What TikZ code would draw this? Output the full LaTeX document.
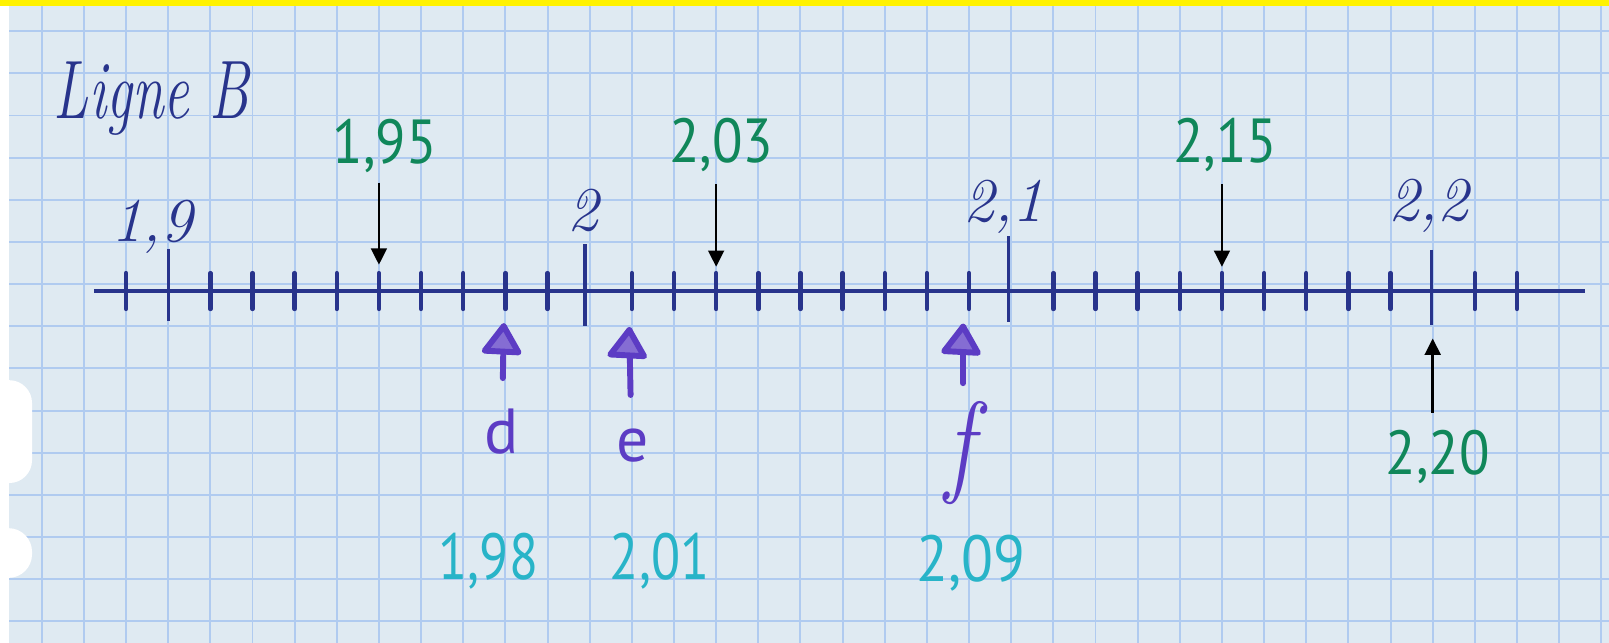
\documentclass[tikz,border=0pt]{standalone}
\usepackage{fontspec}
\newfontfamily\markerfont{PT Sans}
\usetikzlibrary{arrows.meta}
\definecolor{paper}{RGB}{223,234,242}
\definecolor{gridblue}{RGB}{176,203,240}
\definecolor{inkblue}{RGB}{40,52,140}
\definecolor{inkgreen}{RGB}{16,135,90}
\definecolor{inkpurple}{RGB}{92,60,196}
\definecolor{inkcyan}{RGB}{40,180,200}
\begin{document}
\begin{tikzpicture}[x=0.5cm,y=0.5cm,
  gridline/.style={gridblue, line width=0.65pt},
  axisline/.style={inkblue, line width=1.3pt},
  minortick/.style={inkblue, line width=1.5pt, line cap=round},
  majortick/.style={inkblue, line width=1.1pt},
  penlabel/.style={inkblue, font=\fontsize{21}{24}\selectfont\itshape, anchor=base, inner sep=0pt},
  greenlabel/.style={inkgreen, font=\markerfont\fontsize{21}{24}\selectfont, xscale=0.9, anchor=base, inner sep=0pt},
  cyanlabel/.style={inkcyan, font=\markerfont\fontsize{22}{26}\selectfont, anchor=base, inner sep=0pt},
  letterlabel/.style={inkpurple, font=\markerfont\fontsize{21.5}{26}\selectfont, anchor=base, inner sep=0pt},
  blackarrow/.style={black, line width=0.9pt, -{Triangle[width=5.3pt,length=5.5pt]}},
  purplearrow/.style={inkpurple, line width=2pt, line cap=round, line join=round},
  purplehead/.style={inkpurple, fill=inkpurple!75, line width=2pt, line join=round},
]
\useasboundingbox (0,0) rectangle (38.173,-15.255);
% paper
\fill[paper] (0,0) rectangle (38.173,-15.255);
\foreach \k in {0,...,37} \draw[gridline] ({\k+0.99},0) -- ({\k+0.99},-15.255);
\foreach \k in {0,...,14} \draw[gridline] (0,{-0.74-\k}) -- (38.173,{-0.74-\k});
\fill[white] (0,0) rectangle (0.22,-15.255);
% punched holes
\fill[white, rounded corners=0.27cm] (-1,-9.02) rectangle (0.76,-11.46);
\fill[white, rounded corners=0.28cm] (-1,-12.53) rectangle (0.76,-13.71);
% yellow band
\fill[yellow] (0,0) rectangle (38.173,-0.14);

% title
\node[inkblue, font=\fontsize{28}{30}\selectfont\itshape, xscale=0.69, anchor=base, inner sep=0pt] (title) at (3.59,-2.80) {Ligne B};

% axis
\coordinate (axL) at (2.24,-6.91);
\coordinate (axR) at (37.61,-6.91);
\draw[axisline] (axL) -- (axR);
\foreach \i in {0,...,33}{
  \pgfmathtruncatemacro\m{mod(\i-1,10)}
  \ifnum\m=0\relax\else
    \draw[minortick] ({2.99+\i},-6.48) -- ({2.99+\i},-7.33);
  \fi
}
\foreach \x/\t/\b in {3.99/-5.9/-7.62, 13.88/-5.8/-7.74, 23.93/-5.6/-7.65, 33.96/-5.93/-7.72}
  \draw[majortick] (\x,\t) -- (\x,\b);

% blue pen labels
\node[penlabel] (l19) at (3.6,-5.72) {1,9};
\node[penlabel] (l2)  at (13.83,-5.47) {2};
\node[penlabel] (l21) at (23.81,-5.26) {2,1};
\node[penlabel] (l22) at (33.89,-5.23) {2,2};

% green labels and black arrows
\node[greenlabel] (g195) at (9.13,-3.88) {1,95};
\node[greenlabel] (g203) at (17.11,-3.85) {2,03};
\node[greenlabel] (g215) at (29.07,-3.85) {2,15};
\node[greenlabel] (g220) at (34.11,-11.25) {2,20};
\coordinate (a195t) at (8.99,-4.33);  \coordinate (a195h) at (8.99,-6.28);
\coordinate (a203t) at (16.99,-4.37); \coordinate (a203h) at (16.99,-6.33);
\coordinate (a215t) at (28.99,-4.37); \coordinate (a215h) at (28.99,-6.33);
\coordinate (a220t) at (33.99,-9.79); \coordinate (a220h) at (33.99,-8.03);
\draw[blackarrow] (a195t) -- (a195h);
\draw[blackarrow] (a203t) -- (a203h);
\draw[blackarrow] (a215t) -- (a215h);
\draw[blackarrow] (a220t) -- (a220h);

% purple arrows and letters
\coordinate (dtip) at (11.95,-7.74); \coordinate (dtail) at (11.93,-8.97);
\coordinate (etip) at (14.93,-7.83); \coordinate (etail) at (14.96,-9.37);
\coordinate (ftip) at (22.85,-7.75); \coordinate (ftail) at (22.85,-9.09);
\foreach \n in {d,e,f}{
  \draw[purplearrow] (\n tail) -- (\n tip);
  \draw[purplehead] (\n tip) -- ++(-0.45,-0.58) -- ++(0.8,-0.04) -- cycle;
}
\node[letterlabel] (ld) at (11.9,-10.75) {d};
\node[letterlabel] (le) at (15.0,-10.95) {e};
\node[inkpurple, font=\fontsize{32}{34}\selectfont\itshape, yscale=1.2, inner sep=0pt] (lf) at (22.76,-10.75) {f};

% cyan values
\node[cyanlabel, xscale=0.82] (c198) at (11.59,-13.76) {1,98};
\node[cyanlabel, xscale=0.82] (c201) at (15.65,-13.76) {2,01};
\node[cyanlabel, xscale=0.9] (c209) at (23.03,-13.8) {2,09};
\end{tikzpicture}
\end{document}
